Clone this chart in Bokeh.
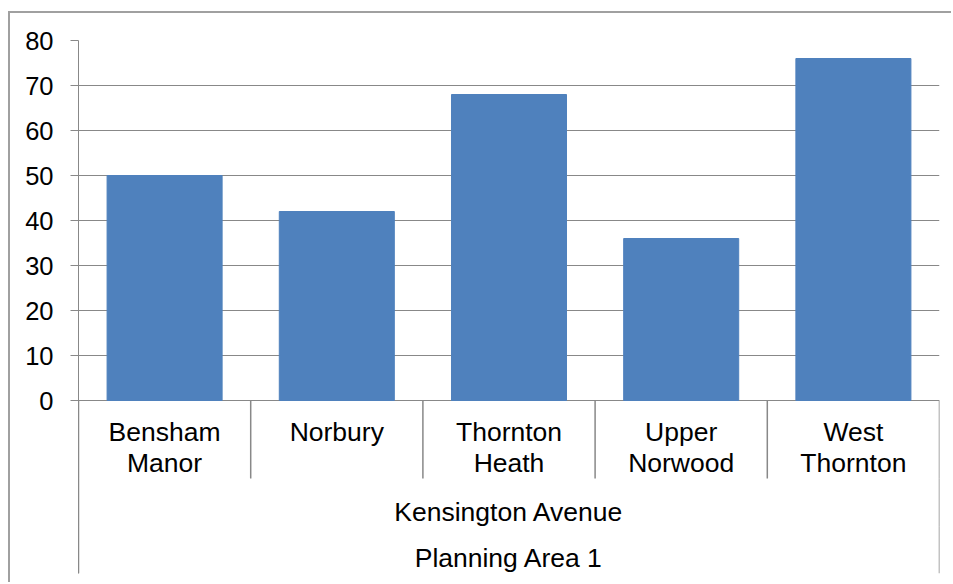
from bokeh.plotting import figure
from bokeh.models import FactorRange, Range1d, FixedTicker
from bokeh.core.properties import value
from bokeh.embed import file_html
from bokeh.resources import INLINE

# ---- data ----
categories = ["Bensham Manor", "Norbury", "Thornton Heath", "Upper Norwood", "West Thornton"]
values = [50, 42, 68, 36, 76]
group_label = "Kensington Avenue"
area_label = "Planning Area 1"
y_ticks = [0, 10, 20, 30, 40, 50, 60, 70, 80]

# ---- style ----
FONT = "Liberation Sans"
FS = "26.5px"
FS_Y = "25.5px"
GREY = "#888888"
BAR = "#4F81BD"

# page geometry (page pixels)
PAGE_W, PAGE_H = 953, 584
BX, BY, BW = 8, 11, 2              # outer border position and width
OX, OY = BX + BW, BY + BW          # canvas origin on page
W, H = PAGE_W - OX, PAGE_H - OY
LEFT, RIGHT, TOP, BOTTOM = 78 - OX, 939 - OX, 40 - OY, 573 - OY
ZERO_PX = 400 - OY                 # canvas row of value 0
ppu = (ZERO_PX - TOP) / max(y_ticks)


def below(px):                     # data y for a pixel offset below the zero line
    return -px / ppu


y_bottom = below(BOTTOM - ZERO_PX)

p = figure(width=W, height=H, output_backend="svg", toolbar_location=None,
           x_range=FactorRange(factors=categories, range_padding=0),
           y_range=Range1d(y_bottom, max(y_ticks)),
           x_axis_location=None,
           min_border_left=LEFT, min_border_right=W - RIGHT,
           min_border_top=TOP, min_border_bottom=H - BOTTOM)
p.outline_line_color = None
p.background_fill_color = "white"
p.border_fill_color = "white"
p.styles = {"margin-left": f"{BX}px", "margin-top": f"{BY}px",
            "border-left": f"{BW}px solid #a0a0a0", "border-top": f"{BW}px solid #a0a0a0"}

yaxis = p.yaxis[0]
yaxis.ticker = FixedTicker(ticks=y_ticks)
yaxis.axis_line_color = GREY
yaxis.major_tick_line_color = GREY
yaxis.minor_tick_line_color = None
yaxis.major_tick_out = 8
yaxis.major_tick_in = 0
yaxis.major_label_standoff = 17
yaxis.major_label_text_font = FONT
yaxis.major_label_text_font_size = FS_Y
yaxis.major_label_text_color = "black"

p.xgrid.visible = False
p.ygrid.ticker = FixedTicker(ticks=y_ticks)
p.ygrid.grid_line_color = GREY
p.ygrid.grid_line_width = 1

p.vbar(x=categories, top=values, width=0.668, fill_color=BAR, line_color=BAR)

# ---- category axis (multi-level) ----
n = len(categories)
lvl1 = below(478 - 400)
lvl2 = below(526 - 400)
p.segment(x0=list(range(n + 1)), y0=[0] * (n + 1), x1=list(range(n + 1)), y1=[lvl1] * (n + 1),
          line_color=GREY, line_width=1.5)
p.segment(x0=[0, n], y0=[lvl1, lvl1], x1=[0, n], y1=[lvl2, lvl2], line_color=GREY, line_width=1.5)
p.segment(x0=[0, n], y0=[lvl2, lvl2], x1=[0, n], y1=[y_bottom, y_bottom], line_color=GREY, line_width=1.5)

line1, line2 = [], []
for c in categories:
    parts = c.split(" ", 1)
    line1.append(parts[0])
    line2.append(parts[1] if len(parts) > 1 else "")

common = dict(text_font=value(FONT), text_font_size=FS, text_align="center",
              text_baseline="middle", text_color="black")
p.text(x=categories, y=[below(431 - 400)] * n, text=line1, **common)
p.text(x=categories, y=[below(462.5 - 400)] * n, text=line2, **common)
p.text(x=[n / 2], y=[below(511 - 400)], text=[group_label], **common)
p.text(x=[n / 2], y=[below(557 - 400)], text=[area_label], **common)

open("out.html", "w").write(file_html(p, INLINE))
